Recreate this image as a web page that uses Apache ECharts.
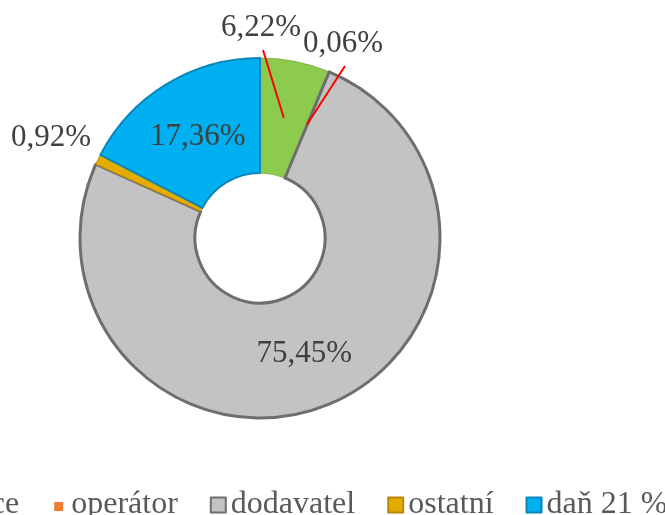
<!DOCTYPE html>
<html>
<head>
<meta charset="utf-8">
<script src="https://cdn.jsdelivr.net/npm/echarts@6/dist/echarts.min.js"></script>
<style>
  html, body { margin: 0; padding: 0; overflow: hidden; background: #fff; }
  /* the original chart is wider than the picture: legend is cut on both sides */
  #main { position: absolute; left: -200px; top: 0; width: 1065px; height: 515px; }
</style>
</head>
<body>
<div id="main"></div>
<script>
// podíly složek ceny
var names = ['distribuce', 'operátor', 'dodavatel', 'ostatní', 'daň 21 %'];
var values = [6.22, 0.06, 75.45, 0.92, 17.36];
var colors = ['#8DCB4E', '#ED7D31', '#C3C3C3', '#E5AC00', '#00B0F0'];

var OFF = 200;
var CX = 260 + OFF, CY = 238;
var R_IN = 65, R_OUT = 180;

// where the outside labels sit (visible picture coords)
var labelAt = { 0: [261, 28], 1: [343, 44], 3: [51, 138] };
// small nudges of the inside labels
var labelShift = { 4: [3, 6], 2: [-2, -1] };
// labels that get a red leader line
var leader = [0, 1];

function midPoint(i, r) {
  var total = 0, before = 0;
  for (var k = 0; k < values.length; k++) {
    total += values[k];
    if (k < i) before += values[k];
  }
  var a = (before + values[i] / 2) / total * Math.PI * 2;
  return [CX + r * Math.sin(a), CY - r * Math.cos(a)];
}

var borders = [
  { borderColor: '#7DB443', borderWidth: 1 },
  { borderColor: '#ED7D31', borderWidth: 0 },
  { borderColor: '#6E6E6E', borderWidth: 3 },
  { borderColor: '#B8860B', borderWidth: 1 },
  { borderColor: '#0A86B8', borderWidth: 2 }
];

var seriesData = names.map(function (n, i) {
  return {
    name: n,
    value: values[i],
    itemStyle: Object.assign({ color: colors[i] }, borders[i]),
    label: { position: labelAt[i] ? 'outside' : 'inside' },
    labelLine: { show: false }
  };
});

// red leader lines, on top of the ring
var leaderLines = leader.map(function (i) {
  var from = [labelAt[i][0] + OFF + 2, labelAt[i][1] + 22];
  var to = midPoint(i, (R_IN + R_OUT) / 2);
  return {
    type: 'line',
    z: 100,
    shape: { x1: from[0], y1: from[1], x2: to[0], y2: to[1] },
    style: { stroke: '#FF0000', lineWidth: 2 }
  };
});

var chart = echarts.init(document.getElementById('main'));
var option = {
  animation: false,
  legend: {
    left: OFF - 133,
    top: 484,
    orient: 'horizontal',
    itemWidth: 15,
    itemHeight: 15,
    itemGap: 32,
    icon: 'rect',
    textStyle: { fontFamily: 'Liberation Serif', fontSize: 32, color: '#595959' },
    data: names.map(function (n) {
      if (n === 'operátor') return { name: n, icon: 'path://M0,0M20,20M4,6h12v12h-12z' };
      return { name: n };
    })
  },
  graphic: leaderLines,
  series: [{
    type: 'pie',
    center: [CX, CY],
    radius: [R_IN, R_OUT],
    startAngle: 90,
    clockwise: true,
    avoidLabelOverlap: false,
    label: {
      show: true,
      fontFamily: 'Liberation Serif',
      fontSize: 31,
      color: '#404040',
      formatter: function (p) {
        return p.value.toFixed(2).replace('.', ',') + '%';
      }
    },
    labelLayout: function (p) {
      var pos = labelAt[p.dataIndex];
      if (pos) {
        return { x: pos[0] + OFF, y: pos[1], align: 'center', verticalAlign: 'middle' };
      }
      var s = labelShift[p.dataIndex];
      return s ? { dx: s[0], dy: s[1] } : {};
    },
    data: seriesData
  }]
};
chart.setOption(option);
</script>
</body>
</html>
